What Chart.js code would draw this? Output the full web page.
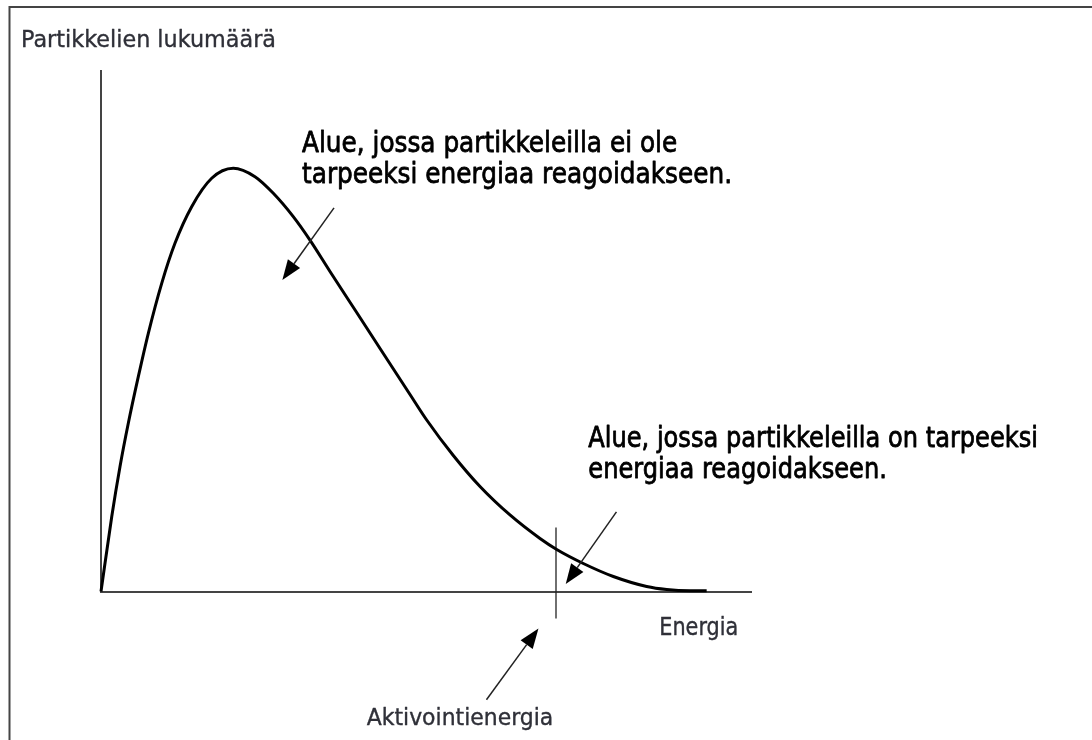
<!DOCTYPE html>
<html>
<head>
<meta charset="utf-8">
<script src="https://cdn.jsdelivr.net/npm/chart.js@4"></script>
<style>
  html, body { margin: 0; padding: 0; background: #fff; }
  canvas { display: block; }
</style>
</head>
<body>
<canvas id="c" width="1092" height="740"></canvas>
<script>
// Energy distribution of particles (arbitrary units)
const energy = [0, 0.165, 0.292, 0.42, 0.574, 0.728, 0.934, 1.138, 1.395, 1.703, 2.035, 2.369, 2.651, 2.958, 3.215, 3.523, 3.934, 4.343, 4.754, 5.011, 5.42, 5.831, 6.292, 6.754, 7.011, 7.42, 7.882, 8.395, 8.703, 9.062, 9.318];
const particleCount = [0, 14.37, 23.98, 32.32, 41.27, 49.61, 59.21, 66.90, 73.93, 79.39, 81.31, 79.69, 76.50, 72.01, 67.50, 61.48, 53.60, 45.73, 37.85, 32.95, 26.13, 20.17, 14.70, 10.18, 8.07, 5.38, 2.88, 0.96, 0.38, 0.15, 0.15];

// Activation energy marker (energy value and vertical extent of the tick)
const activationEnergy = 7.0;
const activationTickY = [-5.2, 12.3];

// Axis ranges
const energyRange = [0, 10];
const countRange = [0, 100];

// Texts
const yAxisTitle = 'Partikkelien lukumäärä';
const xAxisTitle = 'Energia';
const activationLabel = 'Aktivointienergia';
const lowRegionText = ['Alue, jossa partikkeleilla ei ole', 'tarpeeksi energiaa reagoidakseen.'];
const highRegionText = ['Alue, jossa partikkeleilla on tarpeeksi', 'energiaa reagoidakseen.'];

const curvePoints = energy.map((e, i) => ({ x: e, y: particleCount[i] }));
const activationPoints = activationTickY.map(y => ({ x: activationEnergy, y }));

// Text blocks: left edge, first baseline, line gap, cap height, width of widest line
const textBlocks = [
  { lines: [yAxisTitle], x: 21, y: 46.7, gap: 0, cap: 16.7, width: 255, color: '#2f3038', weight: 0.35 },
  { lines: lowRegionText, x: 302, y: 151.7, gap: 31.3, cap: 21, width: 430, color: '#000', weight: 0.7 },
  { lines: highRegionText, x: 588.3, y: 446.7, gap: 31.6, cap: 20.7, width: 449.7, color: '#000', weight: 0.7 },
  { lines: [xAxisTitle], x: 659.3, y: 635, gap: 0, cap: 17.7, width: 79, color: '#2f3038', weight: 0.35 },
  { lines: [activationLabel], x: 366.7, y: 725, gap: 0, cap: 17, width: 186.6, color: '#2f3038', weight: 0.35 }
];

// Pointer arrows in data coordinates (tail -> tip)
const arrows = [
  { from: [3.585, 73.7], to: [2.79, 59.85] },
  { from: [7.93, 15.3], to: [7.15, 1.44] },
  { from: [5.93, -20.8], to: [6.73, -7.1] }
];

function drawTextBlock(ctx, b) {
  const size = b.cap / 0.729;
  ctx.font = size + 'px "DejaVu Sans"';
  const widest = Math.max(...b.lines.map(l => ctx.measureText(l).width));
  const sx = b.width / widest;
  ctx.fillStyle = b.color;
  ctx.strokeStyle = b.color;
  ctx.lineWidth = b.weight / sx;
  ctx.lineJoin = 'round';
  ctx.textBaseline = 'alphabetic';
  ctx.textAlign = 'left';
  b.lines.forEach((line, i) => {
    ctx.save();
    ctx.translate(b.x, b.y + i * b.gap);
    ctx.scale(sx, 1);
    ctx.fillText(line, 0, 0);
    ctx.strokeText(line, 0, 0);
    ctx.restore();
  });
}

function drawArrow(ctx, x1, y1, x2, y2) {
  const ang = Math.atan2(y2 - y1, x2 - x1);
  const headLen = 20, headHalf = 7.5;
  const bx = x2 - headLen * Math.cos(ang);
  const by = y2 - headLen * Math.sin(ang);
  ctx.strokeStyle = '#222';
  ctx.lineWidth = 1.5;
  ctx.beginPath();
  ctx.moveTo(x1, y1);
  ctx.lineTo(bx, by);
  ctx.stroke();
  ctx.fillStyle = '#000';
  ctx.beginPath();
  ctx.moveTo(x2, y2);
  ctx.lineTo(bx + headHalf * Math.sin(ang), by - headHalf * Math.cos(ang));
  ctx.lineTo(bx - headHalf * Math.sin(ang), by + headHalf * Math.cos(ang));
  ctx.closePath();
  ctx.fill();
}

const decorations = {
  id: 'decorations',
  beforeDraw(chart) {
    const ctx = chart.ctx;
    ctx.save();
    ctx.fillStyle = '#fff';
    ctx.fillRect(0, 0, chart.width, chart.height);
    // frame
    ctx.strokeStyle = '#444';
    ctx.lineWidth = 2;
    ctx.beginPath();
    ctx.moveTo(chart.width, 7);
    ctx.lineTo(9.5, 7);
    ctx.lineTo(9.5, chart.height);
    ctx.stroke();
    ctx.restore();
  },
  afterDraw(chart) {
    const ctx = chart.ctx;
    const xs = chart.scales.x, ys = chart.scales.y;
    ctx.save();
    arrows.forEach(a => {
      drawArrow(ctx,
        xs.getPixelForValue(a.from[0]), ys.getPixelForValue(a.from[1]),
        xs.getPixelForValue(a.to[0]), ys.getPixelForValue(a.to[1]));
    });
    textBlocks.forEach(b => drawTextBlock(ctx, b));
    ctx.restore();
  }
};

new Chart(document.getElementById('c'), {
  type: 'line',
  data: {
    datasets: [
      {
        data: curvePoints,
        borderColor: '#000',
        borderWidth: 3,
        pointRadius: 0,
        fill: false,
        cubicInterpolationMode: 'monotone',
        clip: false
      },
      {
        data: activationPoints,
        borderColor: '#222',
        borderWidth: 1.3,
        pointRadius: 0,
        fill: false,
        clip: false
      }
    ]
  },
  options: {
    responsive: false,
    animation: false,
    devicePixelRatio: 1,
    layout: { padding: { left: 101, right: 341, top: 71, bottom: 148.5 } },
    plugins: { legend: { display: false }, tooltip: { enabled: false } },
    scales: {
      x: {
        type: 'linear',
        min: energyRange[0], max: energyRange[1],
        ticks: { display: false },
        grid: { display: false, drawTicks: false },
        border: { display: true, color: '#444', width: 2 }
      },
      y: {
        type: 'linear',
        min: countRange[0], max: countRange[1],
        ticks: { display: false },
        grid: { display: false, drawTicks: false },
        border: { display: true, color: '#444', width: 2 }
      }
    }
  },
  plugins: [decorations]
});
</script>
</body>
</html>
